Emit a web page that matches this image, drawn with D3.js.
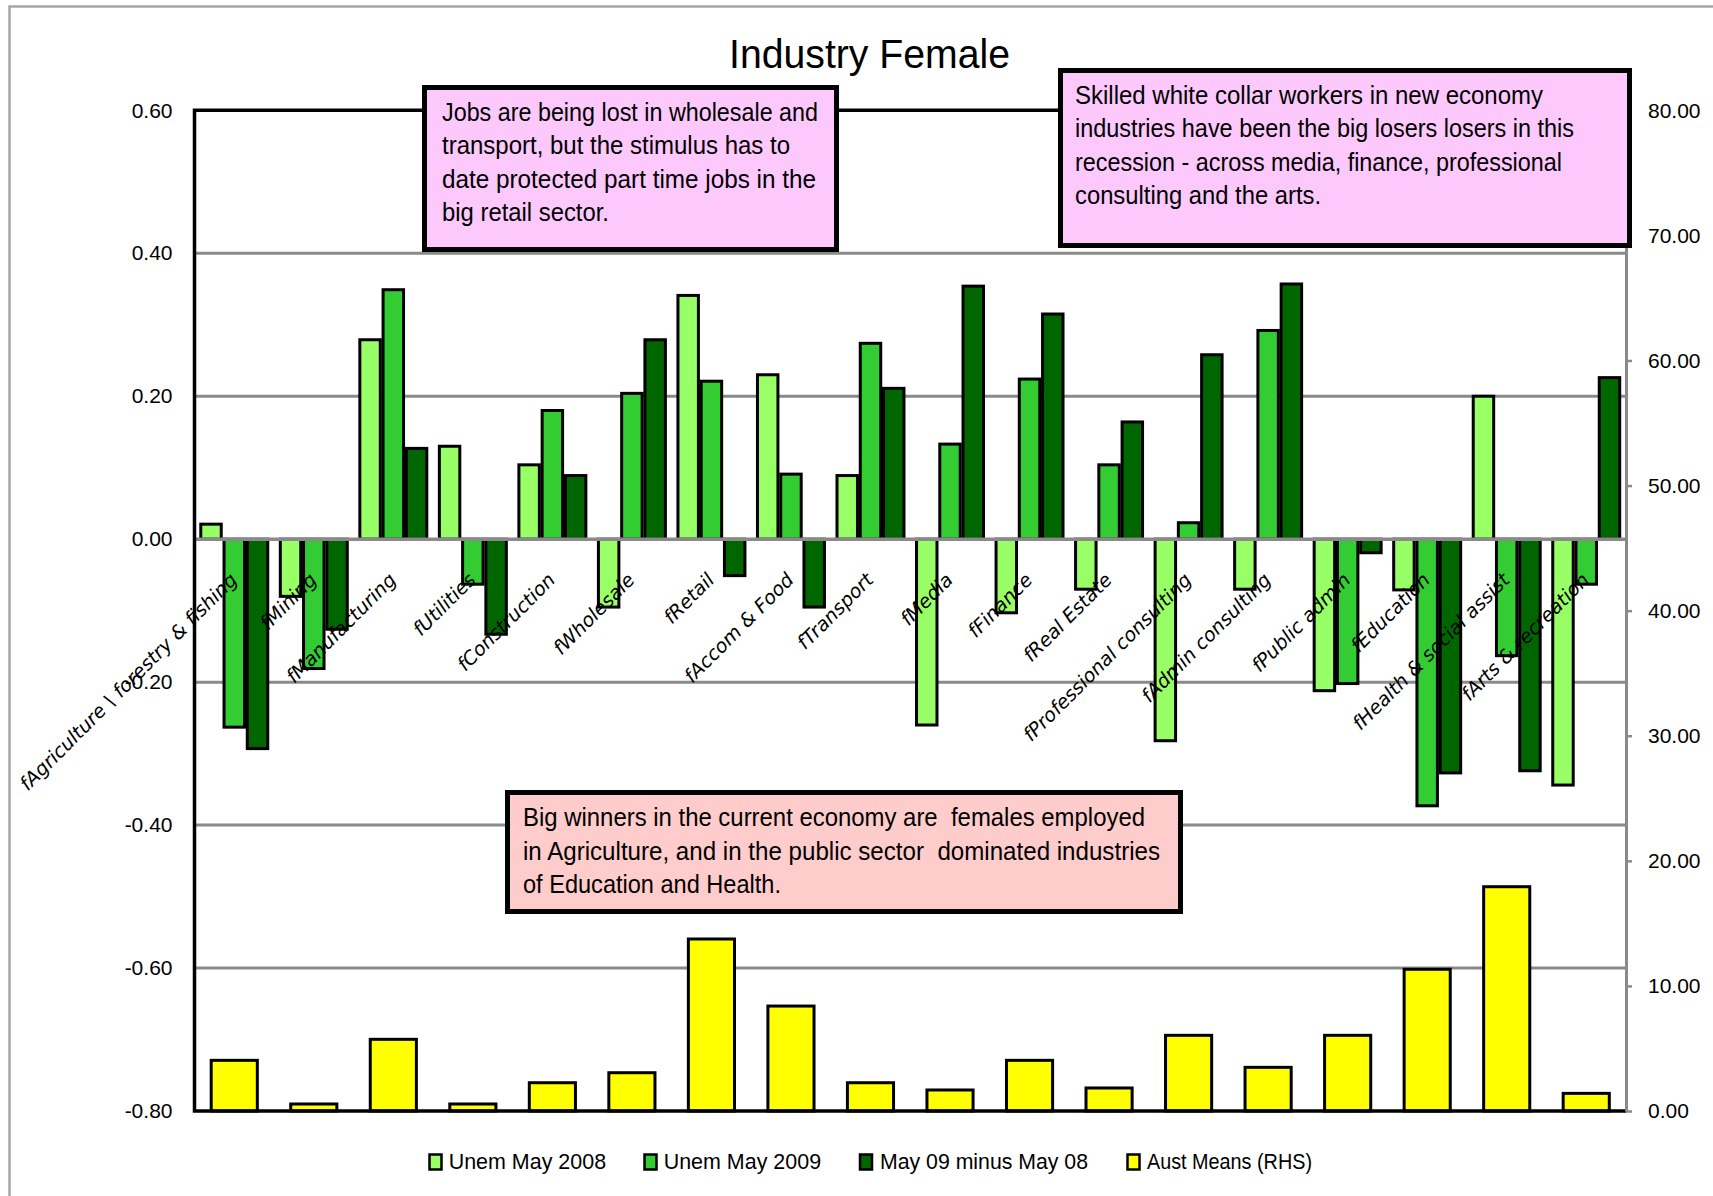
<!DOCTYPE html>
<html>
<head>
<meta charset="utf-8">
<script src="https://cdn.jsdelivr.net/npm/d3@7"></script>
<style>
  html, body { margin: 0; padding: 0; background: #ffffff; }
  svg { display: block; }
</style>
</head>
<body>
<svg id="chart" width="1713" height="1196"></svg>
<script>
// ---- data ----
const categories = [
  "fAgriculture \\ forestry & fishing", "fMining", "fManufacturing", "fUtilities",
  "fConstruction", "fWholesale", "fRetail", "fAccom & Food", "fTransport",
  "fMedia", "fFinance", "fReal Estate", "fProfessional consulting",
  "fAdmin consulting", "fPublic admin", "fEducation", "fHealth & social assist",
  "fArts & recreation"
];
const unemMay2008 = [0.021, -0.080, 0.279, 0.130, 0.104, -0.095, 0.341, 0.230, 0.089,
  -0.260, -0.103, -0.070, -0.282, -0.070, -0.212, -0.071, 0.200, -0.344];
const unemMay2009 = [-0.263, -0.181, 0.349, -0.063, 0.180, 0.204, 0.221, 0.091, 0.274,
  0.133, 0.224, 0.104, 0.023, 0.292, -0.202, -0.373, -0.163, -0.063];
const may09MinusMay08 = [-0.293, -0.126, 0.127, -0.133, 0.089, 0.279, -0.051, -0.095, 0.211,
  0.354, 0.315, 0.164, 0.258, 0.357, -0.019, -0.327, -0.324, 0.226];
const austMeans = [4.05, 0.56, 5.73, 0.56, 2.26, 3.06, 13.75, 8.39, 2.26,
  1.68, 4.05, 1.84, 6.05, 3.49, 6.05, 11.33, 17.93, 1.41];

const leftTicks = [0.6, 0.4, 0.2, 0.0, -0.2, -0.4, -0.6, -0.8];
const rightTicks = [0, 10, 20, 30, 40, 50, 60, 70, 80];

const seriesNames = ["Unem May 2008", "Unem May 2009", "May 09 minus May 08", "Aust Means (RHS)"];
const seriesColors = ["#99ff66", "#33cc33", "#006600", "#ffff00"];

const chartTitle = "Industry Female";

// ---- layout ----
const FONT = "'Liberation Sans', Arial, sans-serif";
const plot = { left: 194.5, right: 1626, top: 110.3, bottom: 1111 };
const svg = d3.select("#chart");

const y = d3.scaleLinear().domain([-0.8, 0.6]).range([plot.bottom, plot.top]);
const yR = d3.scaleLinear().domain([0, 80]).range([plot.bottom, plot.top]);
const x = d3.scaleBand().domain(categories).range([plot.left, plot.right]);
const xs = d3.scaleBand().domain([0, 1, 2]).range([0, x.bandwidth()])
  .paddingInner(0.12).paddingOuter(0.27);
const xY = d3.scaleBand().domain(categories).range([plot.left, plot.right])
  .paddingInner(0.42).paddingOuter(0.21);

// outer chart frame
svg.append("rect")
  .attr("x", 9.5).attr("y", 6.5).attr("width", 1800).attr("height", 1300)
  .attr("fill", "#ffffff").attr("stroke", "#a6a6a6").attr("stroke-width", 2.5);

// horizontal gridlines (inner ones)
svg.append("g").selectAll("line")
  .data(leftTicks.filter(d => d < 0.6 && d > -0.8 && d !== 0))
  .join("line")
  .attr("x1", plot.left).attr("x2", plot.right)
  .attr("y1", d => y(d)).attr("y2", d => y(d))
  .attr("stroke", "#8a8a8a").attr("stroke-width", 3);

// green series on the left axis
const greenSeries = [unemMay2008, unemMay2009, may09MinusMay08];
const barsG = svg.append("g");
greenSeries.forEach((vals, si) => {
  barsG.append("g").selectAll("rect")
    .data(vals.map((v, i) => ({ cat: categories[i], v })))
    .join("rect")
    .attr("x", d => x(d.cat) + xs(si))
    .attr("width", xs.bandwidth())
    .attr("y", d => y(Math.max(0, d.v)))
    .attr("height", d => Math.abs(y(d.v) - y(0)))
    .attr("fill", seriesColors[si])
    .attr("stroke", "#000").attr("stroke-width", 3);
});

// yellow series on the right axis
barsG.append("g").selectAll("rect")
  .data(austMeans.map((v, i) => ({ cat: categories[i], v })))
  .join("rect")
  .attr("x", d => xY(d.cat))
  .attr("width", xY.bandwidth())
  .attr("y", d => yR(d.v))
  .attr("height", d => yR(0) - yR(d.v))
  .attr("fill", seriesColors[3])
  .attr("stroke", "#000").attr("stroke-width", 3);

// zero line across the bars
svg.append("line")
  .attr("x1", plot.left).attr("x2", plot.right)
  .attr("y1", y(0)).attr("y2", y(0))
  .attr("stroke", "#8a8a8a").attr("stroke-width", 3.5);

// frame lines: top, left, bottom in black
svg.append("path")
  .attr("d", `M${plot.right},${y(0.6)}H${plot.left}V${y(-0.8)}H${plot.right}`)
  .attr("fill", "none").attr("stroke", "#000").attr("stroke-width", 3.5);

// left axis labels
const leftAxis = svg.append("g")
  .attr("transform", `translate(${plot.left},0)`)
  .call(d3.axisLeft(y).tickValues(leftTicks).tickFormat(d => d.toFixed(2))
    .tickSize(0).tickPadding(22));
leftAxis.select(".domain").remove();
leftAxis.selectAll("text").attr("font-family", FONT).attr("font-size", 21).attr("fill", "#000");

// right axis
const rightAxis = svg.append("g")
  .attr("transform", `translate(${plot.right},0)`)
  .call(d3.axisRight(yR).tickValues(rightTicks).tickFormat(d => d.toFixed(2))
    .tickSizeInner(6).tickSizeOuter(0).tickPadding(16));
rightAxis.select(".domain").attr("stroke", "#8a8a8a").attr("stroke-width", 3);
rightAxis.selectAll(".tick line").attr("stroke", "#8a8a8a").attr("stroke-width", 2.5);
rightAxis.selectAll("text").attr("font-family", FONT).attr("font-size", 21).attr("fill", "#000");

// category labels, rotated
svg.append("g").selectAll("text")
  .data(categories)
  .join("text")
  .attr("transform", d => `translate(${x(d) + x.bandwidth() / 2 + 4},${y(0) + 42}) rotate(-45)`)
  .attr("text-anchor", "end")
  .attr("font-family", "'DejaVu Sans', Verdana, sans-serif")
  .attr("font-style", "italic")
  .attr("font-size", 19.2)
  .attr("fill", "#000")
  .text(d => d);

// commentary boxes
const notes = [
  { x: 424.5, y: 87.5, w: 412, h: 162, fill: "#fdc9fd", tx: 442, base: [121, 154.3, 187.6, 221],
    lines: ["Jobs are being lost in wholesale and", "transport, but the stimulus has to",
            "date protected part time jobs in the", "big retail sector."],
    widths: [376, 348, 374, 167] },
  { x: 1060.5, y: 70.5, w: 569, h: 175, fill: "#fdc9fd", tx: 1075, base: [104, 137.3, 170.6, 204],
    lines: ["Skilled white collar workers in new economy", "industries have been the big losers losers in this",
            "recession - across media, finance, professional", "consulting and the arts."],
    widths: [468, 499, 487, 246] },
  { x: 507.5, y: 792.5, w: 673, h: 119, fill: "#ffcccc", tx: 523, base: [826, 859.5, 893],
    lines: ["Big winners in the current economy are  females employed",
            "in Agriculture, and in the public sector  dominated industries",
            "of Education and Health."],
    widths: [622, 637, 258] }
];
const notesG = svg.append("g");
notes.forEach(n => {
  const g = notesG.append("g");
  g.append("rect").attr("x", n.x).attr("y", n.y).attr("width", n.w).attr("height", n.h)
    .attr("fill", n.fill).attr("stroke", "#000").attr("stroke-width", 5);
  n.lines.forEach((line, i) => {
    g.append("text")
      .attr("x", n.tx).attr("y", n.base[i])
      .attr("font-family", FONT).attr("font-size", 26)
      .attr("textLength", n.widths[i]).attr("lengthAdjust", "spacingAndGlyphs")
      .attr("fill", "#000")
      .style("white-space", "pre")
      .text(line);
  });
});

// title
svg.append("text")
  .attr("x", 729).attr("y", 68)
  .attr("font-family", FONT).attr("font-size", 41)
  .attr("textLength", 281).attr("lengthAdjust", "spacingAndGlyphs")
  .attr("fill", "#000")
  .text(chartTitle);

// legend
const legendPos = [
  { sx: 429.5, tx: 448.7, tw: 157.4 },
  { sx: 644.5, tx: 663.7, tw: 157.4 },
  { sx: 860, tx: 880, tw: 208 },
  { sx: 1127.5, tx: 1147, tw: 165 }
];
const legend = svg.append("g");
seriesNames.forEach((name, i) => {
  const p = legendPos[i];
  legend.append("rect")
    .attr("x", p.sx).attr("y", 1154.5).attr("width", 12).attr("height", 15)
    .attr("fill", seriesColors[i]).attr("stroke", "#000").attr("stroke-width", 2.5);
  legend.append("text")
    .attr("x", p.tx).attr("y", 1169)
    .attr("font-family", FONT).attr("font-size", 22)
    .attr("textLength", p.tw).attr("lengthAdjust", "spacingAndGlyphs")
    .attr("fill", "#000")
    .text(name);
});
</script>
</body>
</html>
